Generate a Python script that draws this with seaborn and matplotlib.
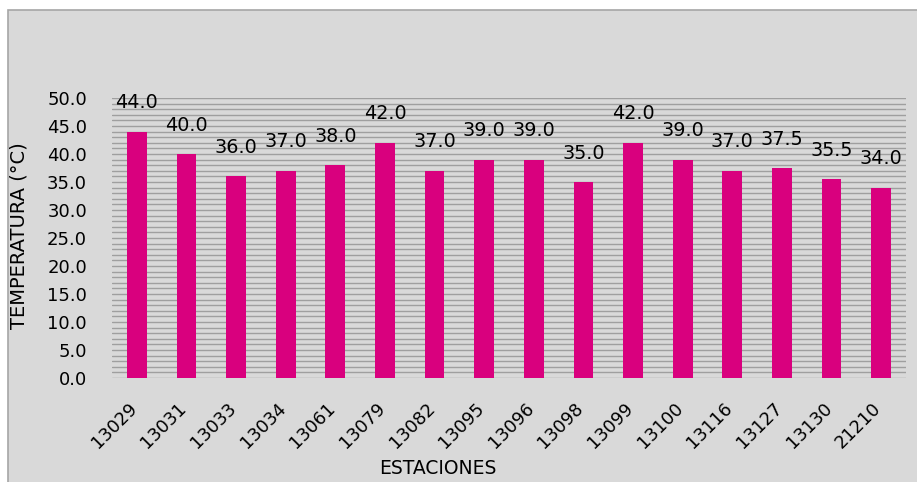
import matplotlib
matplotlib.use("Agg")
import matplotlib.pyplot as plt
import matplotlib.patches as mpatches
import matplotlib.transforms as mtransforms
from matplotlib.ticker import MultipleLocator, FormatStrFormatter
import seaborn as sns
import pandas as pd

estaciones = ["13029", "13031", "13033", "13034", "13061", "13079", "13082", "13095",
              "13096", "13098", "13099", "13100", "13116", "13127", "13130", "21210"]
temperatura = [44.0, 40.0, 36.0, 37.0, 38.0, 42.0, 37.0, 39.0,
               39.0, 35.0, 42.0, 39.0, 37.0, 37.5, 35.5, 34.0]

BG = "#d9d9d9"
BAR = "#d9007e"

sns.set_style("white")
plt.rcParams['font.family'] = ['DejaVu Sans']

df = pd.DataFrame({'Estacion': estaciones, 'Temperatura': temperatura})

fig = plt.figure(figsize=(9.17, 4.82), dpi=100)
fig.patch.set_facecolor("white")
# chart area box (Excel-like)
fig.add_artist(mpatches.Rectangle((8 / 917, -0.05), 1.0, 1 - 10 / 482 + 0.05,
                                  transform=fig.transFigure, facecolor=BG,
                                  edgecolor="#a6a6a6", linewidth=1.2, zorder=0))

ax = fig.add_axes([112 / 917, 1 - 378 / 482, 794 / 917, 280 / 482])
ax.set_facecolor(BG)
ax.patch.set_alpha(0)

sns.barplot(data=df, x='Estacion', y='Temperatura', color=BAR, width=0.4,
            saturation=1, linewidth=0, ax=ax, zorder=3)

for p, v in zip(ax.patches, temperatura):
    ax.annotate(f"{v:.1f}", (p.get_x() + p.get_width() / 2, p.get_height()),
                xytext=(0, 14), textcoords='offset points', ha='center', va='bottom',
                fontsize=13.8, color='black')

ax.set_ylim(0, 50)
ax.set_xlim(-0.5, len(estaciones) - 0.5)
ax.yaxis.set_major_locator(MultipleLocator(5))
ax.yaxis.set_minor_locator(MultipleLocator(1))
ax.yaxis.set_major_formatter(FormatStrFormatter('%.1f'))
ax.grid(True, which='both', axis='y', color='#9f9f9f', linewidth=1.0, zorder=0)
ax.set_axisbelow(True)
for s in ax.spines.values():
    s.set_visible(False)

ax.tick_params(axis='y', which='both', length=0, labelsize=13, pad=18, labelcolor='black')
ax.tick_params(axis='x', length=0, labelsize=12.8, pad=15, labelcolor='black')
shift = mtransforms.ScaledTranslation(-9 / 100, 0, fig.dpi_scale_trans)
for lbl in ax.get_xticklabels():
    lbl.set_rotation(45)
    lbl.set_ha('right')
    lbl.set_rotation_mode('anchor')
    lbl.set_transform(lbl.get_transform() + shift)

ax.set_xlabel("ESTACIONES", fontsize=13.5, color='black')
ax.set_ylabel("TEMPERATURA (°C)", fontsize=14, color='black')
ax.xaxis.set_label_coords(0.41, -0.29)
ax.yaxis.set_label_coords(-0.105, 0.507)

fig.savefig("out.png", dpi=100, facecolor=fig.get_facecolor())
